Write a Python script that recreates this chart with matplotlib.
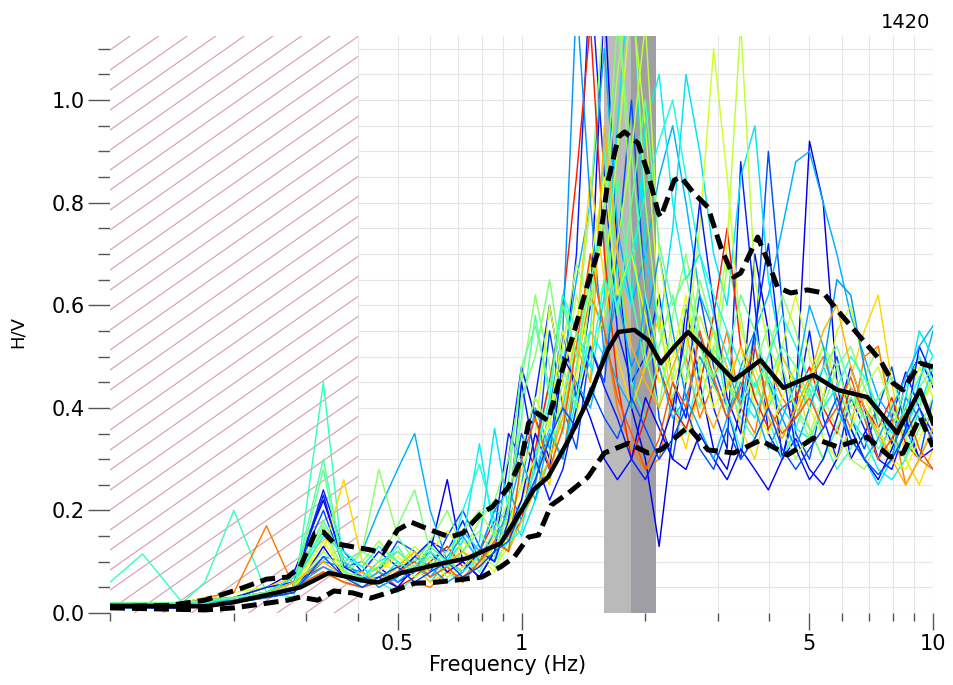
import numpy as np
import matplotlib.pyplot as plt
import matplotlib.transforms as mtransforms
from matplotlib.patches import Rectangle
from matplotlib.ticker import FixedLocator, FixedFormatter, MultipleLocator, NullFormatter, FormatStrFormatter

# --- station / processing info ---
station = '1420'
min_valid_freq = 0.4          # below this the windows are not trusted (hatched)
f0_lo, f0, f0_hi = 1.59, 1.85, 2.12   # peak frequency and its spread

# frequency sampling of the individual windows (Hz)
freq_hz = [0.10, 0.12, 0.15, 0.17, 0.20, 0.24, 0.28, 0.33, 0.37,
           0.41, 0.45, 0.50, 0.55, 0.60, 0.66, 0.72, 0.79, 0.86, 0.93,
           1.00, 1.08, 1.17, 1.26, 1.36, 1.47, 1.59, 1.71, 1.85, 2.00,
           2.16, 2.33, 2.51, 2.71, 2.93, 3.16, 3.41, 3.69, 3.98, 4.30,
           4.64, 5.01, 5.41, 5.84, 6.31, 6.81, 7.36, 7.94, 8.58, 9.26, 10.0]

# H/V of each time window
win01 = [0.02, 0.02, 0.015, 0.02, 0.03, 0.05, 0.08, 0.22, 0.10,
         0.07, 0.09, 0.06, 0.08, 0.12, 0.26, 0.10, 0.07, 0.12, 0.30,
         0.48, 0.38, 0.30, 0.55, 0.42, 0.60, 1.20, 0.70, 0.40, 0.30,
         0.13, 0.35, 0.60, 0.45, 0.32, 0.28, 0.40, 0.70, 0.55, 0.30,
         0.42, 0.92, 0.80, 0.45, 0.30, 0.35, 0.40, 0.33, 0.45, 0.50, 0.44]
win02 = [0.015, 0.01, 0.01, 0.02, 0.03, 0.05, 0.06, 0.24, 0.12,
         0.08, 0.12, 0.09, 0.10, 0.14, 0.12, 0.18, 0.10, 0.16, 0.35,
         0.30, 0.42, 0.60, 0.45, 0.70, 1.25, 0.85, 0.55, 0.45, 0.50,
         0.62, 0.45, 0.38, 0.55, 0.40, 0.32, 0.88, 0.60, 0.35, 0.30,
         0.40, 0.55, 0.38, 0.30, 0.42, 0.36, 0.30, 0.38, 0.47, 0.40, 0.35]
win03 = [0.02, 0.02, 0.02, 0.025, 0.03, 0.04, 0.07, 0.20, 0.09,
         0.10, 0.08, 0.14, 0.12, 0.08, 0.15, 0.20, 0.13, 0.10, 0.22,
         0.35, 0.28, 0.55, 0.40, 0.32, 0.52, 0.45, 0.70, 1.00, 0.62,
         0.38, 0.30, 0.45, 0.62, 0.48, 0.40, 0.30, 0.52, 0.90, 0.60,
         0.35, 0.30, 0.42, 0.50, 0.38, 0.32, 0.40, 0.48, 0.36, 0.30, 0.42]
win04 = [0.01, 0.01, 0.015, 0.02, 0.03, 0.04, 0.05, 0.11, 0.10,
         0.12, 0.20, 0.28, 0.35, 0.20, 0.10, 0.16, 0.12, 0.20, 0.18,
         0.25, 0.40, 0.32, 0.48, 0.65, 0.80, 1.10, 0.75, 0.60, 0.70,
         0.85, 0.95, 0.80, 0.62, 0.55, 0.48, 0.40, 0.55, 0.62, 0.75,
         0.88, 0.90, 0.80, 0.70, 0.58, 0.50, 0.42, 0.38, 0.35, 0.45, 0.55]
win05 = [0.02, 0.015, 0.02, 0.02, 0.03, 0.04, 0.06, 0.18, 0.10,
         0.07, 0.10, 0.12, 0.09, 0.06, 0.10, 0.08, 0.14, 0.36, 0.20,
         0.15, 0.22, 0.30, 0.40, 0.55, 0.45, 0.62, 0.95, 1.30, 0.70,
         0.55, 0.75, 1.05, 0.90, 0.70, 0.60, 0.85, 0.95, 0.65, 0.50,
         0.45, 0.40, 0.48, 0.42, 0.36, 0.30, 0.25, 0.30, 0.42, 0.55, 0.50]
win06 = [0.06, 0.115, 0.02, 0.06, 0.20, 0.04, 0.03, 0.45, 0.08,
         0.05, 0.06, 0.04, 0.07, 0.10, 0.08, 0.06, 0.12, 0.10, 0.14,
         0.22, 0.30, 0.45, 0.62, 0.50, 0.55, 0.90, 0.70, 0.45, 0.38,
         0.50, 0.42, 0.35, 0.48, 0.55, 0.40, 0.32, 0.45, 0.38, 0.30,
         0.36, 0.44, 0.34, 0.28, 0.32, 0.40, 0.34, 0.30, 0.36, 0.42, 0.38]
win07 = [0.015, 0.01, 0.015, 0.02, 0.03, 0.04, 0.05, 0.17, 0.08,
         0.12, 0.28, 0.15, 0.10, 0.14, 0.20, 0.12, 0.18, 0.22, 0.30,
         0.45, 0.62, 0.48, 0.35, 0.55, 0.80, 1.20, 1.25, 0.75, 0.50,
         0.40, 0.58, 0.70, 0.55, 0.45, 0.68, 0.58, 0.42, 0.50, 0.62,
         0.55, 0.44, 0.52, 0.48, 0.40, 0.46, 0.52, 0.40, 0.34, 0.40, 0.46]
win08 = [0.02, 0.02, 0.02, 0.03, 0.04, 0.05, 0.04, 0.16, 0.07,
         0.06, 0.10, 0.08, 0.12, 0.07, 0.09, 0.14, 0.11, 0.08, 0.16,
         0.28, 0.35, 0.60, 0.45, 0.38, 0.55, 0.65, 0.90, 1.20, 0.95,
         0.60, 0.45, 0.52, 0.75, 1.10, 0.85, 0.55, 0.48, 0.40, 0.52,
         0.62, 0.50, 0.42, 0.55, 0.60, 0.48, 0.38, 0.32, 0.40, 0.48, 0.42]
win09 = [0.02, 0.015, 0.02, 0.025, 0.03, 0.05, 0.07, 0.12, 0.26,
         0.10, 0.08, 0.12, 0.09, 0.06, 0.08, 0.12, 0.10, 0.15, 0.18,
         0.22, 0.30, 0.25, 0.42, 0.55, 0.85, 0.65, 0.50, 0.40, 0.48,
         0.58, 0.40, 0.32, 0.45, 0.55, 0.48, 0.36, 0.30, 0.42, 0.50,
         0.44, 0.36, 0.30, 0.38, 0.46, 0.55, 0.62, 0.45, 0.30, 0.25, 0.32]
win10 = [0.02, 0.02, 0.02, 0.03, 0.04, 0.17, 0.05, 0.08, 0.06,
         0.05, 0.07, 0.09, 0.06, 0.05, 0.08, 0.07, 0.10, 0.13, 0.15,
         0.20, 0.26, 0.35, 0.30, 0.48, 0.62, 0.55, 0.40, 0.32, 0.28,
         0.30, 0.42, 0.50, 0.38, 0.45, 0.55, 0.40, 0.35, 0.48, 0.42,
         0.38, 0.45, 0.50, 0.42, 0.36, 0.50, 0.52, 0.38, 0.25, 0.30, 0.28]
win11 = [0.015, 0.015, 0.02, 0.02, 0.03, 0.04, 0.06, 0.09, 0.07,
         0.06, 0.08, 0.05, 0.07, 0.10, 0.13, 0.09, 0.12, 0.18, 0.14,
         0.18, 0.32, 0.45, 0.60, 0.85, 1.15, 0.70, 0.45, 0.30, 0.38,
         0.48, 0.40, 0.36, 0.44, 0.58, 0.75, 0.52, 0.42, 0.36, 0.40,
         0.42, 0.48, 0.40, 0.35, 0.44, 0.40, 0.36, 0.42, 0.33, 0.30, 0.36]
win12 = [0.01, 0.01, 0.01, 0.015, 0.02, 0.03, 0.04, 0.13, 0.07,
         0.06, 0.07, 0.05, 0.09, 0.12, 0.08, 0.10, 0.07, 0.12, 0.16,
         0.22, 0.35, 0.28, 0.50, 0.45, 0.38, 0.30, 0.26, 0.30, 0.42,
         0.36, 0.30, 0.28, 0.35, 0.30, 0.26, 0.32, 0.28, 0.24, 0.30,
         0.34, 0.28, 0.25, 0.30, 0.36, 0.30, 0.26, 0.32, 0.38, 0.30, 0.32]
win13 = [0.02, 0.02, 0.015, 0.02, 0.025, 0.04, 0.05, 0.10, 0.09,
         0.08, 0.05, 0.07, 0.11, 0.09, 0.06, 0.08, 0.12, 0.20, 0.24,
         0.18, 0.25, 0.40, 0.55, 1.20, 0.80, 0.50, 0.62, 0.48, 0.55,
         0.70, 0.55, 0.42, 0.50, 0.45, 0.38, 0.48, 0.55, 0.45, 0.38,
         0.32, 0.40, 0.48, 0.65, 0.62, 0.48, 0.36, 0.30, 0.42, 0.38, 0.34]
win14 = [0.015, 0.01, 0.015, 0.02, 0.03, 0.04, 0.06, 0.15, 0.12,
         0.09, 0.06, 0.10, 0.08, 0.13, 0.10, 0.14, 0.33, 0.15, 0.12,
         0.20, 0.28, 0.36, 0.30, 0.42, 0.55, 0.50, 0.68, 0.60, 0.95,
         1.05, 0.80, 0.65, 0.70, 0.58, 0.50, 0.42, 0.38, 0.46, 0.40,
         0.36, 0.34, 0.40, 0.44, 0.38, 0.34, 0.28, 0.26, 0.30, 0.40, 0.48]
win15 = [0.02, 0.015, 0.02, 0.02, 0.03, 0.05, 0.06, 0.30, 0.09,
         0.07, 0.09, 0.13, 0.08, 0.11, 0.09, 0.12, 0.08, 0.14, 0.20,
         0.38, 0.58, 0.42, 0.35, 0.48, 0.70, 0.55, 0.85, 0.62, 0.48,
         0.52, 0.62, 0.48, 0.40, 0.52, 0.45, 0.38, 0.34, 0.40, 0.46,
         0.40, 0.36, 0.30, 0.36, 0.42, 0.38, 0.32, 0.36, 0.44, 0.50, 0.45]
win16 = [0.015, 0.01, 0.015, 0.02, 0.03, 0.04, 0.05, 0.12, 0.08,
         0.10, 0.14, 0.10, 0.07, 0.09, 0.12, 0.16, 0.20, 0.15, 0.22,
         0.32, 0.42, 0.36, 0.52, 0.68, 0.60, 0.78, 1.05, 1.25, 0.80,
         0.55, 0.46, 0.60, 0.52, 0.44, 0.40, 0.46, 0.52, 0.44, 0.36,
         0.30, 0.35, 0.42, 0.36, 0.30, 0.28, 0.34, 0.40, 0.34, 0.30, 0.36]
win17 = [0.01, 0.01, 0.015, 0.02, 0.02, 0.03, 0.05, 0.08, 0.06,
         0.08, 0.06, 0.09, 0.13, 0.10, 0.07, 0.09, 0.12, 0.09, 0.13,
         0.20, 0.24, 0.30, 0.45, 0.62, 0.50, 0.58, 0.72, 0.90, 1.15,
         0.70, 0.52, 0.45, 0.58, 0.50, 0.72, 1.15, 0.65, 0.52, 0.46,
         0.40, 0.46, 0.52, 0.45, 0.38, 0.44, 0.48, 0.40, 0.34, 0.40, 0.45]
win18 = [0.02, 0.02, 0.02, 0.03, 0.03, 0.04, 0.05, 0.14, 0.08,
         0.06, 0.08, 0.11, 0.08, 0.12, 0.16, 0.12, 0.09, 0.13, 0.17,
         0.25, 0.30, 0.38, 0.55, 0.45, 0.68, 0.85, 0.62, 0.70, 0.58,
         0.45, 0.50, 0.62, 0.48, 0.40, 0.45, 0.52, 0.40, 0.35, 0.42,
         0.48, 0.40, 0.34, 0.30, 0.36, 0.42, 0.36, 0.30, 0.28, 0.34, 0.40]
win19 = [0.02, 0.02, 0.02, 0.025, 0.03, 0.05, 0.06, 0.23, 0.09,
         0.07, 0.06, 0.08, 0.11, 0.14, 0.10, 0.08, 0.12, 0.10, 0.18,
         0.45, 0.30, 0.22, 0.28, 0.40, 0.52, 0.44, 0.38, 0.30, 0.26,
         0.32, 0.40, 0.55, 0.80, 0.60, 0.42, 0.35, 0.55, 0.72, 0.48,
         0.32, 0.26, 0.30, 0.38, 0.48, 0.40, 0.30, 0.28, 0.36, 0.52, 0.46]
win20 = [0.01, 0.015, 0.015, 0.02, 0.025, 0.035, 0.05, 0.09, 0.07,
         0.06, 0.08, 0.06, 0.09, 0.07, 0.11, 0.15, 0.10, 0.14, 0.20,
         0.30, 0.22, 0.35, 0.30, 0.45, 0.40, 0.52, 0.45, 0.40, 0.62,
         0.48, 0.38, 0.42, 0.36, 0.30, 0.38, 0.45, 0.40, 0.32, 0.38,
         0.45, 0.60, 0.52, 0.40, 0.34, 0.30, 0.34, 0.40, 0.46, 0.52, 0.56]
win21 = [0.015, 0.015, 0.02, 0.02, 0.03, 0.04, 0.06, 0.18, 0.10,
         0.12, 0.10, 0.17, 0.24, 0.12, 0.09, 0.12, 0.16, 0.11, 0.20,
         0.42, 0.50, 0.65, 0.48, 0.40, 0.62, 0.80, 1.15, 0.90, 0.62,
         0.50, 0.42, 0.50, 0.65, 0.55, 0.45, 0.40, 0.48, 0.56, 0.48,
         0.40, 0.34, 0.40, 0.48, 0.52, 0.44, 0.38, 0.34, 0.30, 0.36, 0.42]
win22 = [0.02, 0.02, 0.02, 0.025, 0.03, 0.04, 0.06, 0.10, 0.07,
         0.08, 0.06, 0.09, 0.12, 0.08, 0.10, 0.12, 0.09, 0.14, 0.12,
         0.18, 0.24, 0.30, 0.38, 0.52, 0.45, 0.95, 0.70, 0.52, 0.45,
         0.40, 0.48, 0.55, 0.42, 0.36, 0.44, 0.52, 0.46, 0.38, 0.34,
         0.40, 0.46, 0.55, 0.60, 0.48, 0.40, 0.35, 0.30, 0.25, 0.30, 0.36]
win23 = [0.015, 0.015, 0.02, 0.02, 0.03, 0.04, 0.05, 0.08, 0.06,
         0.05, 0.06, 0.08, 0.10, 0.07, 0.09, 0.06, 0.10, 0.14, 0.12,
         0.30, 0.38, 0.28, 0.36, 0.52, 0.70, 0.55, 0.42, 0.35, 0.28,
         0.34, 0.45, 0.40, 0.55, 0.46, 0.38, 0.44, 0.52, 0.40, 0.35,
         0.38, 0.42, 0.36, 0.40, 0.46, 0.38, 0.30, 0.34, 0.40, 0.32, 0.28]
win24 = [0.015, 0.015, 0.02, 0.02, 0.03, 0.04, 0.07, 0.16, 0.11,
         0.09, 0.13, 0.10, 0.08, 0.12, 0.09, 0.20, 0.29, 0.18, 0.14,
         0.16, 0.30, 0.42, 0.62, 0.55, 0.48, 0.65, 0.60, 0.70, 0.82,
         0.92, 1.00, 0.85, 0.70, 0.62, 0.55, 0.48, 0.44, 0.50, 0.58,
         0.52, 0.45, 0.40, 0.44, 0.50, 0.46, 0.40, 0.35, 0.40, 0.46, 0.50]
win25 = [0.01, 0.01, 0.012, 0.015, 0.02, 0.03, 0.04, 0.11, 0.07,
         0.05, 0.07, 0.09, 0.06, 0.08, 0.10, 0.07, 0.09, 0.12, 0.14,
         0.20, 0.26, 0.34, 0.40, 0.36, 0.44, 0.38, 0.34, 0.42, 0.36,
         0.30, 0.34, 0.40, 0.32, 0.28, 0.36, 0.30, 0.34, 0.40, 0.32,
         0.28, 0.32, 0.36, 0.42, 0.34, 0.30, 0.27, 0.30, 0.35, 0.40, 0.33]
win26 = [0.02, 0.02, 0.02, 0.025, 0.03, 0.04, 0.05, 0.28, 0.08,
         0.07, 0.09, 0.12, 0.09, 0.13, 0.10, 0.08, 0.11, 0.16, 0.26,
         0.48, 0.56, 0.44, 0.60, 0.50, 0.65, 0.75, 0.58, 0.80, 1.00,
         0.72, 0.60, 0.66, 0.52, 0.46, 0.50, 0.62, 0.55, 0.45, 0.52,
         0.48, 0.42, 0.48, 0.52, 0.44, 0.38, 0.42, 0.46, 0.38, 0.44, 0.48]

windows = [win01, win02, win03, win04, win05, win06, win07, win08, win09,
           win10, win11, win12, win13, win14, win15, win16, win17, win18,
           win19, win20, win21, win22, win23, win24, win25, win26]
# position of each window in the jet colour map
win_cpos = [0.10, 0.16, 0.20, 0.30, 0.35, 0.42, 0.52, 0.60, 0.68,
            0.78, 0.88, 0.13, 0.27, 0.36, 0.45, 0.55, 0.58, 0.63,
            0.15, 0.30, 0.50, 0.72, 0.82, 0.38, 0.20, 0.47]

# average curve and +/- one standard deviation
mean_freq = [0.10, 0.17, 0.20, 0.24, 0.29, 0.34, 0.38, 0.43, 0.45, 0.51,
             0.62, 0.74, 0.89, 1.00, 1.07, 1.16, 1.30, 1.45, 1.62, 1.72,
             1.88, 2.03, 2.18, 2.35, 2.54, 2.84, 3.28, 3.81, 4.33, 5.12,
             5.86, 6.92, 8.18, 9.30, 10.0]
mean_hv = [0.014, 0.013, 0.021, 0.035, 0.050, 0.078, 0.070, 0.060, 0.060, 0.078,
           0.094, 0.107, 0.136, 0.200, 0.240, 0.265, 0.337, 0.415, 0.513, 0.548,
           0.552, 0.532, 0.487, 0.519, 0.548, 0.507, 0.454, 0.493, 0.439, 0.464,
           0.435, 0.421, 0.351, 0.435, 0.370]

upper_freq = [0.10, 0.14, 0.17, 0.21, 0.24, 0.27, 0.29, 0.315, 0.33, 0.35,
              0.39, 0.43, 0.46, 0.50, 0.54, 0.60, 0.67, 0.72, 0.80, 0.85,
              0.93, 1.00, 1.04, 1.09, 1.16, 1.25, 1.34, 1.45, 1.54, 1.62,
              1.72, 1.78, 1.92, 2.03, 2.15, 2.18, 2.35, 2.44, 2.62, 2.84,
              3.05, 3.28, 3.41, 3.75, 3.96, 4.19, 4.51, 4.95, 5.42, 5.86,
              6.66, 7.44, 8.00, 8.46, 9.30, 10.0]
upper_hv = [0.012, 0.015, 0.025, 0.049, 0.066, 0.070, 0.090, 0.156, 0.158, 0.136,
            0.129, 0.123, 0.117, 0.162, 0.177, 0.162, 0.148, 0.156, 0.195, 0.207,
            0.246, 0.300, 0.370, 0.390, 0.375, 0.468, 0.546, 0.643, 0.708, 0.840,
            0.928, 0.938, 0.916, 0.857, 0.780, 0.772, 0.844, 0.850, 0.819, 0.791,
            0.713, 0.655, 0.663, 0.733, 0.688, 0.635, 0.624, 0.630, 0.624, 0.590,
            0.538, 0.493, 0.448, 0.435, 0.487, 0.480]

lower_freq = [0.10, 0.17, 0.20, 0.24, 0.27, 0.29, 0.32, 0.35, 0.39, 0.43,
              0.48, 0.55, 0.62, 0.69, 0.80, 0.89, 0.96, 1.04, 1.10, 1.18,
              1.30, 1.45, 1.59, 1.82, 2.03, 2.18, 2.54, 2.84, 3.28, 3.81,
              4.43, 5.12, 5.86, 6.92, 7.87, 8.46, 9.30, 10.0]
lower_hv = [0.010, 0.006, 0.010, 0.019, 0.025, 0.031, 0.025, 0.043, 0.039, 0.029,
            0.041, 0.058, 0.060, 0.064, 0.070, 0.090, 0.109, 0.148, 0.152, 0.210,
            0.234, 0.265, 0.312, 0.331, 0.312, 0.318, 0.363, 0.318, 0.312, 0.337,
            0.308, 0.341, 0.324, 0.343, 0.304, 0.312, 0.382, 0.324]


fig = plt.figure(figsize=(9.54, 6.85), dpi=100)
ax = fig.add_axes([0.1153, 0.1051, 0.8627, 0.8423])
ax.set_xscale('log')
ax.set_xlim(0.1, 10)
ax.set_ylim(0, 1.125)
ax.set_axisbelow(True)

# peak frequency band
ax.axvspan(f0_lo, f0, color='#bababa', lw=0, zorder=1)
ax.axvspan(f0, f0_hi, color='#9f9ea4', lw=0, zorder=1)

# unreliable low-frequency range: white box with slanted red hatching
blend = mtransforms.blended_transform_factory(ax.transData, ax.transAxes)
box = Rectangle((0.1, 0), min_valid_freq - 0.1, 1, transform=blend,
                facecolor='white', edgecolor='none', zorder=1)
ax.add_patch(box)
slope = 0.70 * 823 / 577
step = 20 / 577
for c in np.arange(-1.0, 1.0, step):
    ln, = ax.plot([0, 1], [c, c + slope], transform=ax.transAxes,
                  color='#d99aa6', lw=0.8, zorder=1.1)
    ln.set_clip_path(box)

cmap = plt.get_cmap('jet')
for hv, cp in zip(windows, win_cpos):
    ax.plot(freq_hz, hv, color=cmap(cp), lw=1.05, zorder=2,
            solid_joinstyle='round')

ax.plot(mean_freq, mean_hv, color='black', lw=3.2, zorder=4,
        solid_joinstyle='round')
ax.plot(upper_freq, upper_hv, color='black', lw=3.6, zorder=4,
        dashes=(3.0, 1.4))
ax.plot(lower_freq, lower_hv, color='black', lw=3.6, zorder=4,
        dashes=(3.0, 1.4))

# axes styling
for sp in ax.spines.values():
    sp.set_visible(False)

ax.xaxis.set_major_locator(FixedLocator([0.5, 1, 5, 10]))
ax.xaxis.set_major_formatter(FixedFormatter(['0.5', '1', '5', '10']))
ax.xaxis.set_minor_locator(FixedLocator([0.1, 0.2, 0.3, 0.4, 0.6, 0.7, 0.8, 0.9,
                                         2, 3, 4, 6, 7, 8, 9]))
ax.xaxis.set_minor_formatter(NullFormatter())
ax.yaxis.set_major_locator(MultipleLocator(0.2))
ax.yaxis.set_major_formatter(FormatStrFormatter('%.1f'))
ax.yaxis.set_minor_locator(MultipleLocator(0.05))

ax.tick_params(axis='y', which='major', length=16, width=1, color='#555555',
               labelsize=15, pad=2)
ax.tick_params(axis='y', which='minor', length=8.5, width=1, color='#555555')
ax.tick_params(axis='x', which='major', length=12, width=1, color='#555555',
               labelsize=15, pad=3)
ax.tick_params(axis='x', which='minor', length=6, width=1, color='#555555')

ax.grid(True, which='both', color='#e6e6e6', lw=0.8)

fig.text(508 / 954, 1 - 665 / 685, 'Frequency (Hz)', fontsize=15,
         ha='center', va='center')
fig.text(18 / 954, 1 - 332 / 685, 'H/V', fontsize=13, rotation=90,
         ha='center', va='center')
fig.text(930 / 954, 1 - 22 / 685, station, fontsize=14,
         ha='right', va='center')

fig.savefig('out.png', dpi=100)
